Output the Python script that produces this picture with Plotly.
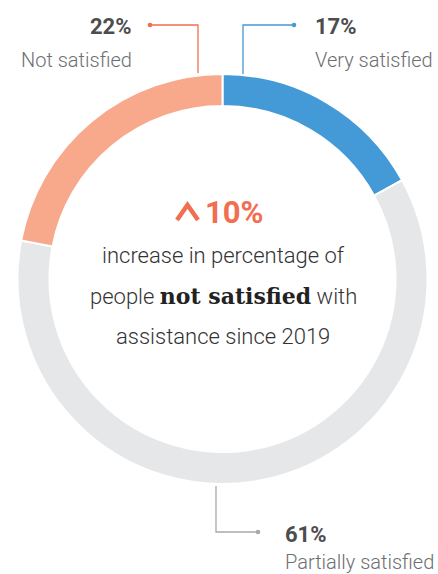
import plotly.graph_objects as go

# data
labels = ["Very satisfied", "Partially satisfied", "Not satisfied"]
values = [17, 61, 22]
colors = ["#4499d7", "#e6e7e8", "#f8a98c"]
increase = 10
line_colors = ["#4499d7", "#a7a9ac", "#f26e50"]

W, H = 438, 574


def px(x):
    return x / W


def py(y):
    return 1 - y / H


fig = go.Figure()
fig.add_trace(go.Pie(
    labels=labels,
    values=values,
    hole=0.844,
    sort=False,
    direction="clockwise",
    rotation=0,
    marker=dict(colors=colors, line=dict(color="white", width=2)),
    textinfo="none",
    hoverinfo="label+percent",
    domain=dict(x=[px(17), px(428)], y=[py(484), py(74)]),
    showlegend=False,
))

shapes = []
annotations = []

# leader lines: (vertical x, y at ring, y elbow, dot x)
leaders = {
    "Very satisfied": (243, 74, 25, 294),
    "Not satisfied": (198, 73, 25, 150),
    "Partially satisfied": (216, 486, 532, 258),
}
for lab, col in zip(labels, line_colors):
    x0, y0, y1, xd = leaders[lab]
    shapes.append(dict(type="path", xref="paper", yref="paper",
                       path=f"M {px(x0)},{py(y0)} L {px(x0)},{py(y1)} L {px(xd)},{py(y1)}",
                       line=dict(color=col, width=1.3)))
    r = 2.3
    shapes.append(dict(type="circle", xref="paper", yref="paper",
                       x0=px(xd - r), x1=px(xd + r), y0=py(y1 + r), y1=py(y1 - r),
                       fillcolor=col, line=dict(width=0)))

# label text positions
label_pos = {
    "Very satisfied": (313, 27, 60, "left"),
    "Not satisfied": (134, 27, 60, "right"),
    "Partially satisfied": (283, 534, 562, "left"),
}
for lab, v in zip(labels, values):
    x, yp, yl, al = label_pos[lab]
    annotations.append(dict(x=px(x), y=py(yp), xref="paper", yref="paper",
                            text=f"<b>{v}%</b>", showarrow=False, xanchor=al, yanchor="middle",
                            font=dict(family="Roboto", size=22, color="#4d4d4f")))
    annotations.append(dict(x=px(x), y=py(yl), xref="paper", yref="paper",
                            text=lab, showarrow=False, xanchor=al, yanchor="middle",
                            font=dict(family="Roboto", size=20, color="#6d6e71", weight=300)))

# centre text
accent = "#f26e50"
shapes.append(dict(type="path", xref="paper", yref="paper",
                   path=f"M {px(177)},{py(220)} L {px(187.5)},{py(205)} L {px(198)},{py(220)}",
                   line=dict(color=accent, width=4.5)))
annotations.append(dict(x=px(203), y=py(212), xref="paper", yref="paper",
                        text=f"<b>{increase}%</b>", showarrow=False, xanchor="left", yanchor="middle",
                        font=dict(family="Roboto", size=31, color=accent)))

body_font = dict(family="Roboto", size=22, color="#333333", weight=300)
annotations.append(dict(x=px(223), y=py(255), xref="paper", yref="paper",
                        text="increase in percentage of", showarrow=False,
                        xanchor="center", yanchor="middle", font=body_font))
annotations.append(dict(x=px(223), y=py(296), xref="paper", yref="paper",
                        text="people <span style='font-family:DejaVu Serif;font-weight:bold;color:#222'>not satisfied</span> with",
                        showarrow=False, xanchor="center", yanchor="middle", font=body_font))
annotations.append(dict(x=px(223), y=py(336), xref="paper", yref="paper",
                        text="assistance since 2019", showarrow=False,
                        xanchor="center", yanchor="middle", font=body_font))

fig.update_layout(
    width=W, height=H,
    margin=dict(l=0, r=0, t=0, b=0),
    paper_bgcolor="white",
    plot_bgcolor="white",
    shapes=shapes,
    annotations=annotations,
)

# page body has a default 8px margin; drop it so the figure fills the window
fig.write_html("out.html", config={"displayModeBar": False},
               post_script="document.body.style.margin='0';")
